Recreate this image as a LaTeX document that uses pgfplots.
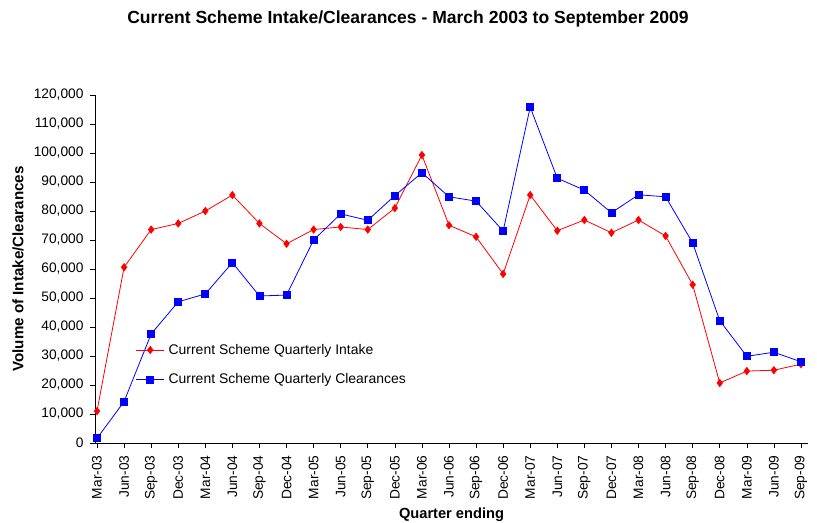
\documentclass[border=0pt]{standalone}
\usepackage{pgfplots}
\pgfplotsset{compat=1.18}
\usepackage{fontspec}
\setmainfont{Liberation Sans}
\begin{document}
\begin{tikzpicture}
\useasboundingbox (-95bp,-80bp) rectangle (722bp,443bp);
\begin{axis}[
  at={(0,0)}, anchor=south west,
  scale only axis,
  width=713bp, height=348bp,
  xmin=-0.074, xmax=26.26,
  ymin=0, ymax=120000,
  axis x line=bottom, axis y line=left,
  axis line style={-, line width=0.8pt},
  tick align=outside,
  major tick length=5bp,
  tick style={black, line width=0.6pt},
  xtick={0,...,26},
  xticklabels={Mar-03,Jun-03,Sep-03,Dec-03,Mar-04,Jun-04,Sep-04,Dec-04,Mar-05,Jun-05,Sep-05,Dec-05,Mar-06,Jun-06,Sep-06,Dec-06,Mar-07,Jun-07,Sep-07,Dec-07,Mar-08,Jun-08,Sep-08,Dec-08,Mar-09,Jun-09,Sep-09},
  x tick label style={rotate=90, anchor=east, yshift=-0bp, xshift=0bp, font=\fontsize{13.8}{15}\selectfont},
  xticklabel shift=4bp,
  ytick={0,10000,...,120000},
  y tick label style={font=\fontsize{13.8}{15}\selectfont},
  yticklabel shift=3bp,
  scaled y ticks=false,
  yticklabel style={/pgf/number format/.cd, fixed, 1000 sep={,}, assume math mode=true},
  xlabel={\textbf{Quarter ending}},
  xlabel style={font=\fontsize{14.7}{16}\selectfont, at={(axis description cs:0.5,-0.207)}, anchor=center},
  ylabel={\textbf{Volume of Intake/Clearances}},
  ylabel style={font=\fontsize{15.2}{17}\selectfont, at={(axis description cs:-0.108,0.5)}, anchor=center},
  legend style={draw=none, fill=none, at={(axis description cs:0.057,0.296)}, anchor=north west, font=\fontsize{14}{16}\selectfont, row sep=14bp, inner xsep=0pt, /tikz/every odd column/.style={column sep=2bp}},
  legend image code/.code={\draw[mark repeat=2, mark phase=2, #1] plot coordinates {(0bp,0bp) (14bp,0bp) (28bp,0bp)};},
  legend cell align=left,
  clip=false,
]
\addplot[red, line width=0.8pt, mark=diamond*, mark size=3.6bp, mark options={fill=red, draw=red}] coordinates {
(0,11000) (1,60600) (2,73600) (3,75700) (4,80000) (5,85500) (6,75700) (7,68700) (8,73600)
(9,74500) (10,73600) (11,81000) (12,99300) (13,75100) (14,71100) (15,58300) (16,85500)
(17,73200) (18,76900) (19,72500) (20,76900) (21,71400) (22,54600) (23,20700) (24,24800)
(25,25100) (26,27200)};
\addlegendentry{Current Scheme Quarterly Intake}
\addplot[blue, line width=0.8pt, mark=square*, mark size=3.5bp, mark options={fill=blue, draw=blue}] coordinates {
(0,1600) (1,14300) (2,37600) (3,48700) (4,51400) (5,62200) (6,50700) (7,51000) (8,70000)
(9,79000) (10,76800) (11,85300) (12,93200) (13,84900) (14,83400) (15,73100) (16,115800)
(17,91300) (18,87200) (19,79400) (20,85600) (21,84900) (22,69000) (23,42200) (24,29900)
(25,31300) (26,28000)};
\addlegendentry{Current Scheme Quarterly Clearances}
\end{axis}
\node[font=\fontsize{17.6}{20}\selectfont\bfseries] at (313bp,424bp) {Current Scheme Intake/Clearances - March 2003 to September 2009};
\end{tikzpicture}
\end{document}
